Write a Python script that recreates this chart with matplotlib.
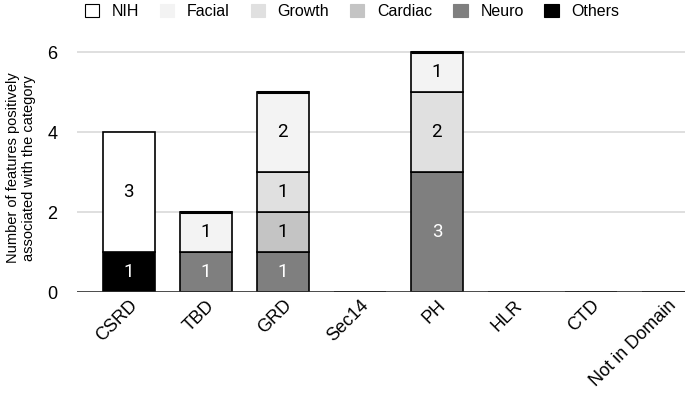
import matplotlib
matplotlib.use('Agg')
import matplotlib.pyplot as plt
import matplotlib.patches as mpatches
import numpy as np

# categories and stacked series (bottom to top)
categories = ['CSRD', 'TBD', 'GRD', 'Sec14', 'PH', 'HLR', 'CTD', 'Not in Domain']
others = [1, 0, 0, 0, 0, 0, 0, 0]
neuro = [0, 1, 1, 0, 3, 0, 0, 0]
cardiac = [0, 0, 1, 0, 0, 0, 0, 0]
growth = [0, 0, 1, 0, 2, 0, 0, 0]
facial = [0, 1, 2, 0, 1, 0, 0, 0]
nih = [3, 0, 0, 0, 0, 0, 0, 0]

series = [
    ('Others', others, '#000000', 'white'),
    ('Neuro', neuro, '#7f7f7f', 'white'),
    ('Cardiac', cardiac, '#c4c4c4', 'black'),
    ('Growth', growth, '#e0e0e0', 'black'),
    ('Facial', facial, '#f3f3f3', 'black'),
    ('NIH', nih, '#ffffff', 'black'),
]
legend_order = ['NIH', 'Facial', 'Growth', 'Cardiac', 'Neuro', 'Others']

fig = plt.figure(figsize=(6.85, 4.08), dpi=100)
ax = fig.add_axes([0.112, 0.284, 0.888, 0.608])

x = np.arange(len(categories))
bottom = np.zeros(len(categories))
for name, vals, color, tcolor in series:
    vals = np.array(vals, dtype=float)
    ax.bar(x, vals, 0.675, bottom=bottom, color=color,
           edgecolor='black', linewidth=1.2, zorder=3)
    for i, v in enumerate(vals):
        if v > 0:
            ax.text(x[i], bottom[i] + v / 2, str(int(v)), ha='center', va='center',
                    color=tcolor, fontsize=13.5, family='Roboto', zorder=4)
    bottom += vals

# stacks without an NIH segment get a heavier top edge, as in the reference
for i, top in enumerate(bottom):
    if top > 0 and nih[i] == 0:
        ax.plot([x[i] - 0.3375, x[i] + 0.3375], [top, top], color='black',
                linewidth=2.2, zorder=4, solid_capstyle='butt')

ax.set_xlim(-0.675, 7.22)
ax.set_ylim(0, 6.2)
ax.set_yticks([0, 2, 4, 6])
ax.yaxis.grid(True, color='#d9d9d9', linewidth=1.2, zorder=0)
ax.axhline(0, color='#333333', linewidth=1.2, zorder=5)
for s in ax.spines.values():
    s.set_visible(False)
ax.tick_params(axis='both', length=0, labelsize=13)
ax.tick_params(axis='y', pad=14)
ax.set_xticks(x)
ax.set_xticklabels(categories, rotation=45, ha='right', rotation_mode='anchor',
                   family='Liberation Sans')
for lbl in ax.get_yticklabels():
    lbl.set_family('Liberation Sans')
ax.set_ylabel('Number of features positively\nassociated with the category',
              fontsize=10.5, family='Liberation Sans', labelpad=8)

leg_handles = []
for name in legend_order:
    c = [s[2] for s in series if s[0] == name][0]
    ec = 'black' if name == 'NIH' else c
    leg_handles.append(mpatches.Patch(facecolor=c, edgecolor=ec, linewidth=0.8, label=name))
fig.legend(handles=leg_handles, loc='upper center', bbox_to_anchor=(0.514, 1.025),
           ncol=6, frameon=False, prop={'family': 'Liberation Sans', 'size': 11.5},
           handlelength=0.9, handleheight=0.9, columnspacing=1.3, handletextpad=0.8)

fig.savefig('out.png', dpi=100)
